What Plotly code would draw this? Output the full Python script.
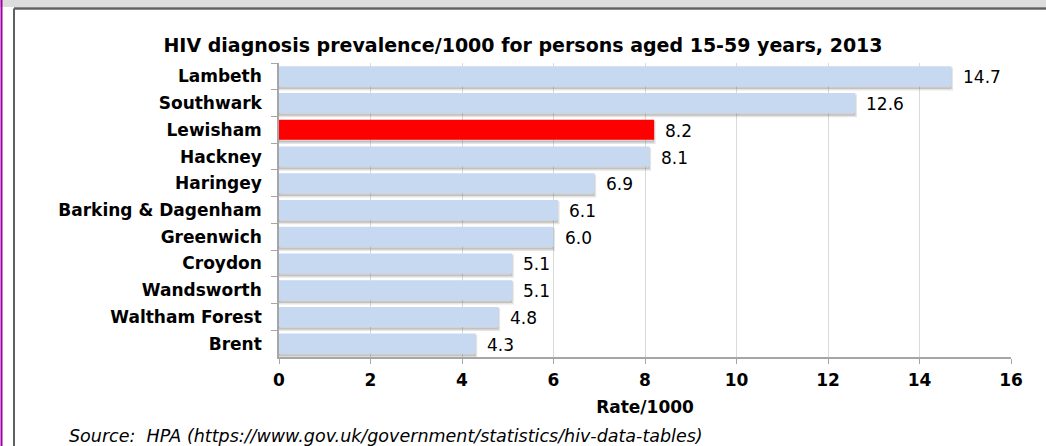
import plotly.graph_objects as go

boroughs = ["Lambeth", "Southwark", "Lewisham", "Hackney", "Haringey",
            "Barking & Dagenham", "Greenwich", "Croydon", "Wandsworth",
            "Waltham Forest", "Brent"]
rates = [14.7, 12.6, 8.2, 8.1, 6.9, 6.1, 6.0, 5.1, 5.1, 4.8, 4.3]
highlight = "Lewisham"
x_ticks = [0, 2, 4, 6, 8, 10, 12, 14, 16]

title_text = "HIV diagnosis prevalence/1000 for persons aged 15-59 years, 2013"
x_title = "Rate/1000"
source_text = "Source:  HPA (https://www.gov.uk/government/statistics/hiv-data-tables)"

W, H = 1046, 446
L, R, T, B = 279, 35, 63, 89
pw, ph = W - L - R, H - T - B

def px_x(p):
    return (p - L) / pw

def px_y(p):
    return (H - B - p) / ph

bar_colors = ["#ff0000" if b == highlight else "#c6d9f1" for b in boroughs]

fig = go.Figure()
# shadow
fig.add_trace(go.Bar(
    x=rates, y=boroughs, orientation="h",
    width=0.75, offset=-0.375 + 0.1,
    marker=dict(color="rgba(110,110,110,0.3)", line=dict(color="rgba(110,110,110,0.18)", width=3)),
    hoverinfo="skip", showlegend=False,
))
fig.add_trace(go.Bar(
    x=rates, y=boroughs, orientation="h",
    width=0.75, offset=-0.375,
    marker=dict(color=bar_colors, line=dict(width=0)),
    showlegend=False,
))

for b, v in zip(boroughs, rates):
    fig.add_annotation(x=v, y=b, xref="x", yref="y", text=f"{v:.1f}",
                       showarrow=False, xanchor="left", yanchor="middle",
                       xshift=9, yshift=-1,
                       font=dict(family="DejaVu Sans", size=17, color="#000000"))

fig.add_annotation(text=source_text, xref="paper", yref="paper",
                   x=px_x(67), y=px_y(436), xanchor="left", yanchor="middle",
                   showarrow=False,
                   font=dict(family="DejaVu Sans", size=17.5, color="#000000", style="italic"))

shapes = [
    # top grey band
    dict(type="rect", xref="paper", yref="paper", x0=px_x(0), x1=px_x(W), y0=px_y(0), y1=px_y(7),
         fillcolor="#dcdcdc", line=dict(width=0), layer="above"),
    dict(type="line", xref="paper", yref="paper", x0=px_x(14), x1=px_x(W), y0=px_y(8.5), y1=px_y(8.5),
         line=dict(color="#606060", width=2.5)),
    dict(type="line", xref="paper", yref="paper", x0=px_x(14), x1=px_x(14), y0=px_y(8.5), y1=px_y(H),
         line=dict(color="#606060", width=2)),
    dict(type="line", xref="paper", yref="paper", x0=px_x(1.5), x1=px_x(1.5), y0=px_y(0), y1=px_y(H),
         line=dict(color="#a000a0", width=2)),
]

fig.update_layout(
    width=W, height=H,
    margin=dict(l=L, r=R, t=T, b=B),
    paper_bgcolor="#ffffff", plot_bgcolor="#ffffff",
    barmode="overlay",
    title=dict(text=title_text, x=0.5, xref="container", xanchor="center",
               y=1 - 45 / H, yref="container", yanchor="middle",
               font=dict(family="DejaVu Sans", size=19, color="#000000", weight="bold")),
    xaxis=dict(range=[0, 16], tickvals=x_ticks, ticktext=[str(t) for t in x_ticks],
               showgrid=True, gridcolor="#d9d9d9", gridwidth=1,
               showline=True, linecolor="#a6a6a6", linewidth=2,
               ticks="outside", ticklen=5, tickcolor="#a6a6a6", tickwidth=1,
               ticklabelstandoff=2,
               tickfont=dict(family="DejaVu Sans", size=17, color="#000000", weight="bold"),
               title=dict(text=x_title, standoff=12,
                          font=dict(family="DejaVu Sans", size=17, color="#000000", weight="bold")),
               zeroline=False, fixedrange=True),
    yaxis=dict(categoryorder="array", categoryarray=boroughs, autorange="reversed",
               showline=True, linecolor="#a6a6a6", linewidth=1.5,
               ticks="outside", ticklen=6, tickcolor="#a6a6a6", tickson="boundaries",
               ticklabelstandoff=12, showgrid=False,
               tickfont=dict(family="DejaVu Sans", size=17, color="#000000", weight="bold"),
               fixedrange=True),
    shapes=shapes,
)

fig.write_html("out.html", config={"displayModeBar": False},
               post_script="document.body.style.margin='0';document.body.style.overflow='hidden';")
